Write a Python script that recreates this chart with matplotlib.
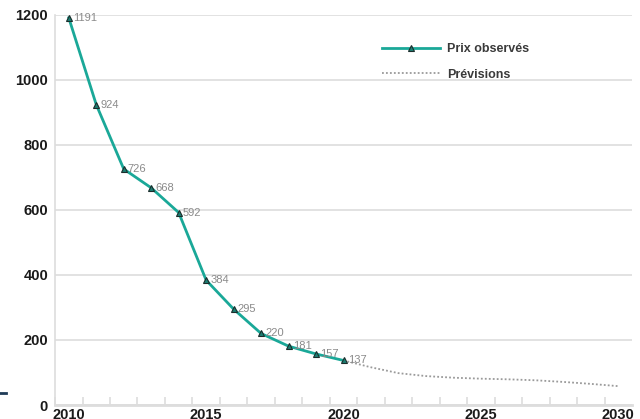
import matplotlib
matplotlib.use("Agg")
import matplotlib.pyplot as plt
from matplotlib.lines import Line2D

# observed prices 2010-2020
obs_years = [2010, 2011, 2012, 2013, 2014, 2015, 2016, 2017, 2018, 2019, 2020]
obs_prices = [1191, 924, 726, 668, 592, 384, 295, 220, 181, 157, 137]

# forecast 2020-2030
fc_years = [2020, 2021, 2022, 2023, 2024, 2025, 2026, 2027, 2028, 2029, 2030]
fc_prices = [137, 116, 98, 89, 84, 81, 79, 76, 71, 65, 58]

x_labels = [2010, 2015, 2020, 2025, 2030]
y_ticks = [0, 200, 400, 600, 800, 1000, 1200]

teal = "#1aa898"
grid_col = "#dddddd"
label_font = ["Liberation Sans Narrow", "Liberation Sans", "DejaVu Sans"]

fig = plt.figure(figsize=(6.4, 4.19), dpi=100)
ax = fig.add_axes([0.086, 0.0334, 0.9015, 0.931])

ax.plot(fc_years, fc_prices, color="#9a9a9a", linestyle=(0, (1, 1.2)), linewidth=1.3,
        zorder=2, label="Prévisions")
ax.plot(obs_years, obs_prices, color=teal, linewidth=2, marker="^", markersize=5,
        markerfacecolor="#1c7d72", markeredgecolor="#1b2d2b", markeredgewidth=0.8,
        zorder=3, clip_on=False, label="Prix observés")

for yr, p in zip(obs_years, obs_prices):
    ax.annotate(str(p), (yr, p), xytext=(3, 0), textcoords="offset points",
                fontsize=8, color="#8a8a8a", family=label_font, va="center", ha="left")

ax.set_xlim(2009.5, 2030.5)
ax.set_ylim(0, 1200)
ax.set_xticks(x_labels)
ax.set_xticklabels([str(v) for v in x_labels])
ax.set_xticks([y + 0.5 for y in range(2009, 2030)], minor=True)
ax.set_yticks(y_ticks)

ax.tick_params(axis="x", which="major", length=0, pad=2)
ax.tick_params(axis="x", which="minor", direction="in", length=6, color=grid_col, width=1.2)
ax.tick_params(axis="y", length=0, pad=5)
for lab in ax.get_xticklabels() + ax.get_yticklabels():
    lab.set_family(label_font)
    lab.set_fontweight("bold")
    lab.set_fontsize(10.5)
    lab.set_color("#1a1a1a")

ax.grid(axis="y", color=grid_col, linewidth=1.2)
ax.set_axisbelow(True)
for side in ["top", "right"]:
    ax.spines[side].set_visible(False)
ax.spines["left"].set_color(grid_col)
ax.spines["left"].set_linewidth(1.2)
ax.spines["bottom"].set_color(grid_col)
ax.spines["bottom"].set_linewidth(2)

handles, labels = ax.get_legend_handles_labels()
leg = ax.legend(handles[::-1], labels[::-1], loc="upper left", bbox_to_anchor=(0.548, 0.957),
                frameon=False, handlelength=4.6, handletextpad=0.55, labelspacing=1.1,
                prop={"family": label_font, "weight": "bold", "size": 9})
for t in leg.get_texts():
    t.set_color("#3a3a3a")

# small dark mark at the left edge
fig.add_artist(Line2D([0.0, 0.01], [0.062, 0.062], color="#1f3b57", linewidth=2))

fig.savefig("out.png", dpi=100)
